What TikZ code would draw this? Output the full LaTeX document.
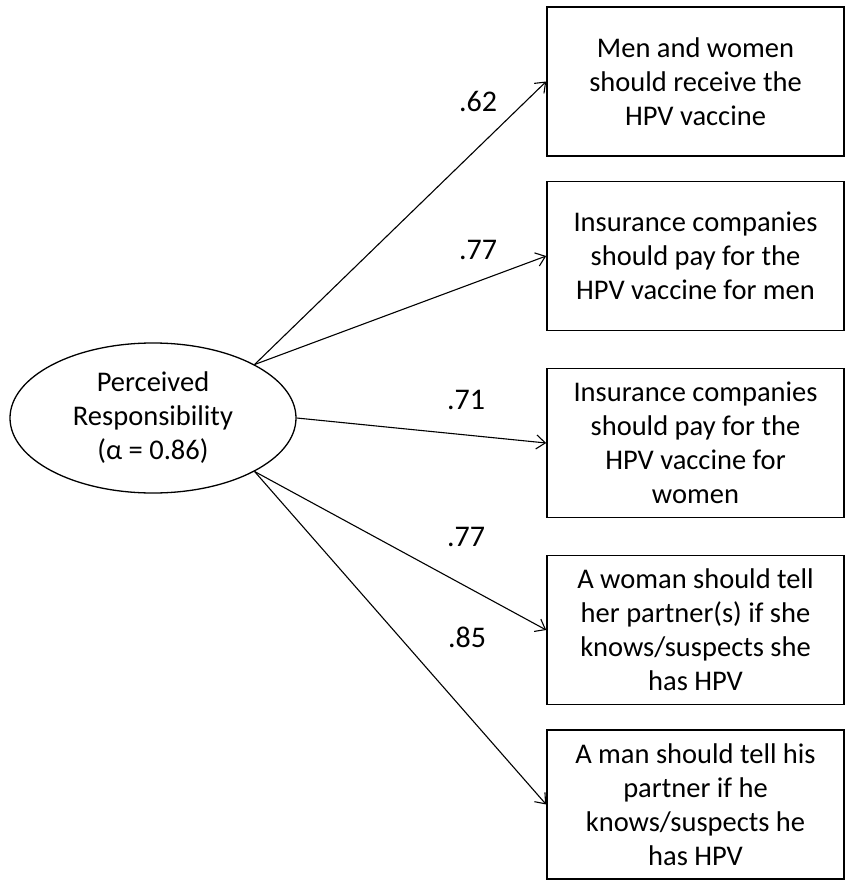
\documentclass[tikz,border=0pt]{standalone}
\usepackage{fontspec}
\setmainfont{Carlito}
\usetikzlibrary{arrows.meta,shapes.geometric}

\begin{document}
\begin{tikzpicture}[x=1pt,y=-1pt,
    >={Straight Barb[length=9pt,width=14pt]},
    every node/.style={font=\fontsize{28.5}{34}\selectfont},
    item/.style={draw,line width=1.6pt,minimum width=297pt,minimum height=149pt,inner sep=0pt,align=center},
    latent/.style={draw,ellipse,line width=1.3pt,minimum width=286pt,minimum height=150pt,inner sep=0pt,align=center},
    arr/.style={->,line width=1.1pt}]
  \useasboundingbox (0,0) rectangle (845,883);
  % latent factor
  \node[latent] (pr) at (153,418) {Perceived\\Responsibility\\(α = 0.86)};
  % observed items
  \node[item] (b1) at (695.5,81.5) {Men and women\\should receive the\\HPV vaccine};
  \node[item] (b2) at (695.5,256) {Insurance companies\\should pay for the\\HPV vaccine for men};
  \node[item] (b3) at (695.5,443) {Insurance companies\\should pay for the\\HPV vaccine for\\women};
  \node[item] (b4) at (695.5,630) {A woman should tell\\her partner(s) if she\\knows/suspects she\\has HPV};
  \node[item] (b5) at (695.5,804.5) {A man should tell his\\partner if he\\knows/suspects he\\has HPV};
  % loadings
  \foreach \s/\t/\v/\lx/\ly in {pr.north east/b1/.62/478/101, pr.north east/b2/.77/478/250,
      pr.east/b3/.71/466/400, pr.south east/b4/.77/466/537, pr.south east/b5/.85/467/637} {
    \draw[arr] (\s) -- (\t.west);
    \node[font=\fontsize{30}{34}\selectfont] (l\t) at (\lx,\ly) {\v};
  }
\end{tikzpicture}
\end{document}
